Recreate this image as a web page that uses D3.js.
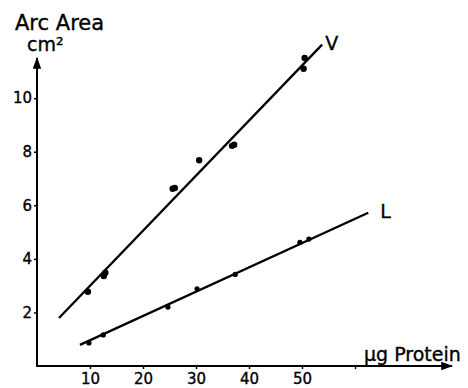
<!DOCTYPE html>
<html>
<head>
<meta charset="utf-8">
<script src="https://cdn.jsdelivr.net/npm/d3@7"></script>
<style>
  body { margin: 0; background: #fff; }
  svg { display: block; }
  text { font-family: "DejaVu Sans", sans-serif; fill: #000; stroke: #000; stroke-width: 0.35px; }
</style>
</head>
<body>
<script>
"use strict";

// data
var vProtein = [9.6, 12.6, 12.9, 25.6, 26.0, 30.6, 36.8, 37.2, 50.3, 50.5];
var vArea    = [2.77, 3.36, 3.48, 6.62, 6.65, 7.68, 8.22, 8.26, 11.1, 11.5];
var lProtein = [9.8, 12.5, 24.7, 30.2, 37.4, 49.6, 51.3];
var lArea    = [0.86, 1.16, 2.2, 2.88, 3.42, 4.62, 4.74];

// hand drawn fit lines (ends)
var vLineX = [4.15, 53.8];
var vLineY = [1.79, 12.0];
var lLineX = [8.1, 62.5];
var lLineY = [0.79, 5.72];

var xTicks = [10, 20, 30, 40, 50, 60];
var xTickLabels = ["10", "20", "30", "40", "50", ""];
var yTicks = [2, 4, 6, 8, 10];

var width = 468, height = 388;
var x0 = 37, y0 = 366;

var x = d3.scaleLinear().domain([0, 78.3]).range([x0, 452]);
var y = d3.scaleLinear().domain([0, 11.5]).range([y0, 58]);

var svg = d3.select("body").append("svg")
    .attr("width", width)
    .attr("height", height);

var defs = svg.append("defs");
defs.append("marker")
    .attr("id", "arrow")
    .attr("viewBox", "0 0 10 10")
    .attr("refX", 9).attr("refY", 5)
    .attr("markerWidth", 6).attr("markerHeight", 6)
    .attr("markerUnits", "strokeWidth")
    .attr("orient", "auto")
  .append("path")
    .attr("d", "M0,1.5 L10,5 L0,8.5 Z")
    .attr("fill", "#000");

// axes lines with arrows
svg.append("line")
    .attr("x1", x0).attr("y1", y0)
    .attr("x2", x.range()[1]).attr("y2", y0)
    .attr("stroke", "#000").attr("stroke-width", 2)
    .attr("marker-end", "url(#arrow)");
svg.append("line")
    .attr("x1", x0).attr("y1", y0 + 1)
    .attr("x2", x0).attr("y2", y.range()[1])
    .attr("stroke", "#000").attr("stroke-width", 2)
    .attr("marker-end", "url(#arrow)");

var xAxis = svg.append("g")
    .attr("transform", "translate(0," + y0 + ")")
    .call(d3.axisBottom(x).tickValues(xTicks)
        .tickFormat(function(d, i) { return xTickLabels[i]; })
        .tickSize(3).tickPadding(4));
xAxis.select(".domain").remove();
xAxis.selectAll("line").attr("stroke", "#000").attr("stroke-width", 1.5);
xAxis.selectAll("text").attr("font-size", 15).attr("font-family", "DejaVu Sans");

var yAxis = svg.append("g")
    .attr("transform", "translate(" + x0 + ",0)")
    .call(d3.axisLeft(y).tickValues(yTicks).tickSize(3).tickPadding(2));
yAxis.select(".domain").remove();
yAxis.selectAll("line").attr("stroke", "#000").attr("stroke-width", 1.5);
yAxis.selectAll("text").attr("font-size", 15).attr("font-family", "DejaVu Sans");

// fit lines
var line = d3.line()
    .x(function(d) { return x(d[0]); })
    .y(function(d) { return y(d[1]); });

svg.append("path")
    .datum(d3.zip(vLineX, vLineY))
    .attr("d", line)
    .attr("fill", "none").attr("stroke", "#000").attr("stroke-width", 2.3);
svg.append("path")
    .datum(d3.zip(lLineX, lLineY))
    .attr("d", line)
    .attr("fill", "none").attr("stroke", "#000").attr("stroke-width", 2.3);

// points
svg.append("g").selectAll("circle")
    .data(d3.zip(vProtein, vArea))
    .enter().append("circle")
    .attr("cx", function(d) { return x(d[0]); })
    .attr("cy", function(d) { return y(d[1]); })
    .attr("r", 3.2)
    .attr("fill", "#000");
svg.append("g").selectAll("circle")
    .data(d3.zip(lProtein, lArea))
    .enter().append("circle")
    .attr("cx", function(d) { return x(d[0]); })
    .attr("cy", function(d) { return y(d[1]); })
    .attr("r", 2.6)
    .attr("fill", "#000");

// labels
svg.append("text").attr("x", 15).attr("y", 30)
    .attr("font-size", 21).text("Arc Area");
svg.append("text").attr("x", 27).attr("y", 51)
    .attr("font-size", 19).text("cm²");
svg.append("text").attr("x", 364).attr("y", 361)
    .attr("font-size", 19).text("μg Protein");
svg.append("text").attr("x", x(vLineX[1]) + 3).attr("y", 50)
    .attr("font-size", 19).text("V");
svg.append("text").attr("x", x(lLineX[1]) + 12).attr("y", 218)
    .attr("font-size", 19).text("L");
</script>
</body>
</html>
